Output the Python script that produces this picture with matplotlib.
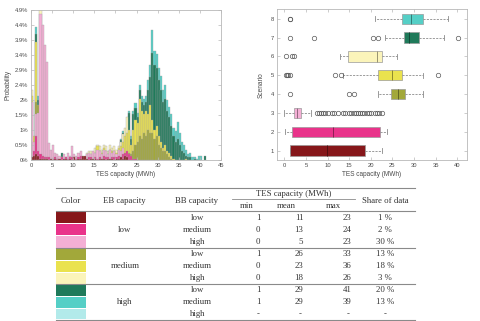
import numpy as np
import matplotlib
matplotlib.use("Agg")
import matplotlib.pyplot as plt
from matplotlib.patches import Rectangle
from matplotlib.lines import Line2D

# ---------------- data ----------------
BIN_W = 0.5  # MWh per histogram bin, bins start at 0

# probability (%) per 0.5 MWh bin, 0 .. 42 MWh (10 bins per line = 5 MWh)
p_high_medium = [  # turquoise, scenario 8
    0, 0, 4.35, 2.1, 0, 0, 0, 0, 0, 0,
    0, 0, 0, 0, 0, 0, 0, 0, 0, 0,
    0, 0, 0, 0, 0, 0, 0, 0, 0, 0,
    0, 0, 0, 0, 0, 0, 0, 0, 0, 0,
    0, 0, 0.7, 0.95, 0, 0, 1.6, 0.8, 1.6, 1.85,
    1.55, 2.45, 2.1, 2.0, 2.1, 2.6, 3.1, 4.25, 3.55, 3.45,
    3.0, 2.75, 2.3, 2.45, 1.95, 1.75, 1.5, 1.05, 0.95, 1.25,
    0.9, 0.6, 0.5, 0.35, 0.2, 0.25, 0.1, 0.1, 0.05, 0.15,
    0.15, 0, 0, 0]
p_high_low = [  # dark green, scenario 7
    0, 0, 4.1, 1.95, 0, 0, 0, 0, 0, 0,
    0, 0, 0, 0, 0.25, 0, 0, 0, 0, 0,
    0, 0, 0, 0, 0, 0, 0, 0, 0, 0,
    0, 0, 0, 0, 0, 0, 0, 0, 0, 0,
    0, 0, 0.65, 0.9, 0, 0, 1.55, 0.7, 1.5, 1.7,
    1.4, 2.3, 1.9, 1.8, 1.9, 2.3, 2.7, 3.5, 3.1, 3.0,
    2.6, 2.3, 1.9, 2.0, 1.6, 1.4, 1.1, 0.8, 0.6, 0.7,
    0.5, 0.3, 0.25, 0.15, 0.1, 0.1, 0, 0.05, 0, 0,
    0, 0, 0.15, 0]
p_medium_high = [  # light yellow, scenario 6
    2.3, 0, 0, 0, 4.95, 0, 0, 0, 0, 0,
    0, 0, 0, 0, 0, 0, 0, 0, 0, 0,
    0, 0, 0, 0, 0, 0, 0.25, 0.3, 0.3, 0.25,
    0.4, 0.5, 0.45, 0.35, 0.5, 0.45, 0.3, 0.5, 0.4, 0.45,
    0.35, 0.45, 0.6, 0.85, 1.05, 1.4, 0.6, 0.3, 0, 0,
    0, 0, 0, 0, 0, 0, 0, 0, 0, 0,
    0, 0, 0, 0, 0, 0, 0, 0, 0, 0,
    0, 0, 0, 0, 0, 0, 0, 0, 0, 0,
    0, 0, 0, 0]
p_medium_medium = [  # yellow, scenario 5
    2.1, 0.8, 3.85, 0, 0, 0, 0, 0, 0, 0,
    0, 0, 0, 0, 0, 0, 0, 0, 0, 0,
    0, 0, 0, 0, 0, 0, 0, 0.1, 0.15, 0.1,
    0.25, 0.45, 0.3, 0.25, 0.4, 0.3, 0.2, 0.35, 0.3, 0.3,
    0.25, 0.4, 0.45, 0.6, 0.8, 0.9, 1.0, 0.5, 1.0, 1.3,
    1.2, 2.0, 1.6, 1.5, 1.6, 1.5, 1.8, 1.3, 1.0, 1.1,
    0.8, 0.6, 0.4, 0.5, 0.3, 0.25, 0.15, 0.05, 0, 0,
    0, 0, 0, 0.05, 0, 0, 0, 0, 0, 0,
    0, 0, 0, 0]
p_medium_low = [  # olive, scenario 4
    0, 0, 1.9, 1.8, 0, 0, 0, 0, 0, 0,
    0, 0, 0, 0, 0, 0, 0, 0, 0, 0,
    0, 0, 0, 0, 0, 0, 0, 0, 0, 0,
    0, 0.1, 0, 0.1, 0, 0, 0, 0, 0, 0,
    0, 0, 0, 0.1, 0.15, 0.2, 0.25, 0.2, 0.3, 0.5,
    0.6, 0.8, 0.7, 0.9, 0.8, 1.0, 0.9, 0.9, 0.7, 0.8,
    0.5, 0.4, 0.3, 0.3, 0.2, 0.1, 0.05, 0, 0, 0,
    0, 0, 0, 0, 0, 0, 0, 0, 0, 0,
    0, 0, 0, 0]
p_low_high = [  # light pink, scenario 3
    1.9, 0.6, 1.5, 1.55, 4.75, 4.4, 3.75, 3.2, 0.55, 0.35,
    0.5, 0.25, 0.2, 0.15, 0.1, 0.2, 0.1, 0.25, 0.15, 0.45,
    0.2, 0.15, 0.25, 0.3, 0.05, 0.1, 0.2, 0.25, 0.2, 0.3,
    0.25, 0.35, 0.3, 0.2, 0.35, 0.3, 0.2, 0.35, 0.25, 0.3,
    0.2, 0.35, 0.3, 0.4, 0.15, 0.1, 0, 0, 0, 0,
    0, 0, 0, 0, 0, 0, 0, 0, 0, 0,
    0, 0, 0, 0, 0, 0, 0, 0, 0, 0,
    0, 0, 0, 0, 0, 0, 0, 0, 0, 0,
    0, 0, 0, 0]
p_low_medium = [  # pink, scenario 2
    0, 0.3, 0.8, 0.3, 0.2, 0.15, 0.1, 0.1, 0.1, 0.05,
    0.05, 0.1, 0.05, 0.05, 0.1, 0.05, 0.1, 0.05, 0.1, 0.1,
    0.1, 0.05, 0.1, 0.15, 0.1, 0.1, 0.05, 0.1, 0.1, 0.05,
    0.1, 0.05, 0.1, 0.05, 0.15, 0.1, 0.1, 0.05, 0.1, 0.1,
    0.1, 0.15, 0.1, 0.2, 0.25, 0.3, 0.2, 0.15, 0.05, 0.05,
    0, 0, 0, 0, 0, 0, 0, 0, 0, 0,
    0, 0, 0, 0, 0, 0, 0, 0, 0, 0,
    0, 0, 0, 0, 0, 0, 0, 0, 0, 0,
    0, 0, 0, 0]
p_low_low = [  # dark red, scenario 1
    0.1, 0.15, 0.2, 0.15, 0.05, 0.05, 0.05, 0.05, 0, 0.05,
    0, 0.05, 0, 0.05, 0, 0.05, 0.05, 0, 0.05, 0,
    0.1, 0, 0.05, 0.05, 0.15, 0.15, 0.05, 0, 0.05, 0.05,
    0.05, 0, 0.05, 0.05, 0.05, 0, 0.05, 0.05, 0.05, 0,
    0.05, 0.05, 0.1, 0.05, 0.15, 0.1, 0, 0, 0, 0,
    0, 0, 0, 0, 0, 0, 0, 0, 0, 0,
    0, 0, 0, 0, 0, 0, 0, 0, 0, 0,
    0, 0, 0, 0, 0, 0, 0, 0, 0, 0,
    0, 0, 0, 0]

# boxplot statistics per scenario 1..8 (MWh)
scenarios = [1, 2, 3, 4, 5, 6, 7, 8]
whisk_lo = [1.3, 0.2, 0.0, 21.6, 13.5, 12.9, 23.3, 21.0]
q1 = [1.3, 1.7, 2.2, 24.6, 21.7, 14.6, 27.7, 27.3]
median = [9.9, 11.3, 2.85, 26.2, 25.0, 21.5, 28.9, 29.4]
q3 = [18.7, 22.1, 3.9, 27.9, 27.3, 22.7, 31.1, 32.0]
whisk_hi = [22.5, 23.7, 6.1, 32.0, 32.0, 26.0, 36.9, 37.9]
fliers = [
    [],
    [],
    [7.5, 8.0, 8.5, 9.0, 9.5, 10.0, 11.0, 11.5, 12.5, 13.5, 14.0, 15.0, 15.5,
     16.0, 16.5, 17.0, 17.5, 18.0, 18.5, 19.0, 19.5, 20.0, 21.0, 21.5, 22.0, 22.5],
    [1.2, 15.0, 16.1],
    [0.3, 0.6, 0.9, 1.2, 11.6, 13.2, 35.5],
    [0.3, 1.7, 2.2],
    [1.2, 6.8, 20.6, 21.6, 40.1],
    [1.2, 1.3],
]

# table
table_colors = ["#86171A", "#E9338A", "#F4AFD5", "#A2A83A", "#EAE24E",
                "#FBF4BA", "#1F7A5A", "#55CFC6", "#B2EAEA"]
eb_levels = ["low", "medium", "high"]
bb_levels = ["low", "medium", "high"]
tes_min = ["1", "0", "0", "1", "0", "0", "1", "1", "-"]
tes_mean = ["11", "13", "5", "26", "23", "18", "29", "29", "-"]
tes_max = ["23", "24", "23", "33", "36", "26", "41", "39", "-"]
share = ["1 %", "2 %", "30 %", "13 %", "18 %", "3 %", "20 %", "13 %", "-"]

ytick_labels = ["0%", "0.5%", "1%", "1.5%", "2%", "2.4%", "2.9%", "3.4%",
                "3.9%", "4.4%", "4.9%"]

# ---------------- figure ----------------
W, H = 480, 321
fig = plt.figure(figsize=(W / 100, H / 100), dpi=100)

SANS = "Liberation Sans"
SERIF = "Liberation Serif"
TICK_FS = 4.2
LAB_FS = 4.7
AX_COL = "#b8b8b8"
TXT_COL = "#4a4a4a"


def style_axes(ax):
    for s in ax.spines.values():
        s.set_color(AX_COL)
        s.set_linewidth(0.6)
    ax.tick_params(direction="in", length=2, width=0.5, color=AX_COL,
                   labelsize=TICK_FS, labelcolor=TXT_COL, pad=2,
                   top=False, right=True)
    for lab in ax.get_xticklabels() + ax.get_yticklabels():
        lab.set_fontfamily(SANS)


# ---- histogram ----
ax1 = fig.add_axes([31 / W, 1 - 160.3 / H, 190 / W, 150.6 / H])
series_hist = [
    (p_high_medium, table_colors[7]),
    (p_high_low, table_colors[6]),
    (p_medium_high, table_colors[5]),
    (p_medium_medium, table_colors[4]),
    (p_medium_low, table_colors[3]),
    (p_low_high, table_colors[2]),
    (p_low_medium, table_colors[1]),
    (p_low_low, table_colors[0]),
]
for vals, col in series_hist:
    vals = np.asarray(vals, dtype=float)
    lefts = np.arange(len(vals)) * BIN_W
    m = vals > 0
    ax1.bar(lefts[m], vals[m], width=BIN_W, align="edge", color=col,
            edgecolor="#a0a0a0", linewidth=0.25)
ax1.set_xlim(0, 45)
ax1.set_ylim(0, 4.9)
ax1.set_xticks(np.arange(0, 46, 5))
ax1.set_yticks(np.arange(11) * 0.49)
ax1.set_yticklabels(ytick_labels)
style_axes(ax1)
ax1.tick_params(top=True)
ax1.set_xlabel("TES capacity (MWh)", fontsize=LAB_FS, color=TXT_COL,
               family=SANS, labelpad=2)
ax1.set_ylabel("Probability", fontsize=LAB_FS, color=TXT_COL,
               family=SANS, labelpad=2)

# ---- boxplot ----
ax2 = fig.add_axes([276.7 / W, 1 - 160 / H, 190 / W, 150.7 / H])
box_colors = table_colors[:8]
stats = []
for i in range(len(scenarios)):
    stats.append(dict(whislo=whisk_lo[i], q1=q1[i], med=median[i],
                      q3=q3[i], whishi=whisk_hi[i], fliers=fliers[i]))
bp = ax2.bxp(stats, positions=scenarios, orientation="horizontal",
             widths=0.55, patch_artist=True, showfliers=True,
             capwidths=0.28,
             boxprops=dict(edgecolor="#9a9a9a", linewidth=0.5),
             whiskerprops=dict(color="#8a8a8a", linewidth=0.6,
                               linestyle=(0, (2.5, 1.5))),
             capprops=dict(color="#8a8a8a", linewidth=0.6),
             flierprops=dict(marker="o", markerfacecolor="none",
                             markeredgecolor="#5a5a5a", markersize=3.2,
                             markeredgewidth=0.5),
             medianprops=dict(linewidth=0.7))
for patch, col, med in zip(bp["boxes"], box_colors, bp["medians"]):
    patch.set_facecolor(col)
    rgb = np.array(matplotlib.colors.to_rgb(col))
    med.set_color(tuple(rgb * 0.6))
ax2.set_xlim(-1.8, 42.2)
ax2.set_ylim(0.5, 8.5)
ax2.set_xticks(np.arange(0, 41, 5))
ax2.set_yticks(scenarios)
ax2.set_yticklabels([str(s) for s in scenarios])
style_axes(ax2)
ax2.tick_params(top=True)
ax2.set_xlabel("TES capacity (MWh)", fontsize=LAB_FS, color=TXT_COL,
               family=SANS, labelpad=2)
ax2.set_ylabel("Scenario", fontsize=LAB_FS, color=TXT_COL,
               family=SANS, labelpad=4)

# ---- table ----
TFS = 6.3
TCOL = "#333333"
LCOL = "#8a8a8a"


def fx(x):
    return x / W


def fy(y):
    return 1 - y / H


def hline(y, x0, x1, lw=0.8):
    fig.add_artist(Line2D([fx(x0), fx(x1)], [fy(y), fy(y)],
                          transform=fig.transFigure, color=LCOL, linewidth=lw))


def txt(x, y, s, ha="center"):
    fig.text(fx(x), fy(y), s, ha=ha, va="center", fontsize=TFS,
             family=SERIF, color=TCOL)


TL, TR = 55.7, 415
hline(188.3, TL, TR)
hline(199.3, 231.7, 355, lw=0.6)
hline(211.0, TL, TR)
hline(248.3, TL, TR)
hline(284.3, TL, TR)
hline(320.0, TL, TR)

txt(71, 201, "Color")
txt(124.3, 201, "EB capacity")
txt(196.7, 201, "BB capacity")
txt(293.3, 194.5, "TES capacity (MWh)")
txt(246.7, 206, "min")
txt(286, 206, "mean")
txt(333.3, 206, "max")
txt(385, 201, "Share of data")

row_y = [217.7, 229.9, 242.0, 254.0, 266.2, 278.3, 290.0, 302.1, 314.3]
bands = [(211.0, 248.3), (248.3, 284.3), (284.3, 320.0)]
for k in range(9):
    y = row_y[k]
    g = k // 3
    top, bot = bands[g]
    h = (bot - top) / 3
    y0 = top + (k % 3) * h + 0.6
    fig.add_artist(Rectangle((fx(TL), fy(y0 + h - 1.2)), fx(86) - fx(TL),
                             fy(y0) - fy(y0 + h - 1.2),
                             transform=fig.transFigure,
                             facecolor=table_colors[k], edgecolor="none"))
    if k % 3 == 1:
        txt(124.8, y, eb_levels[g])
    txt(197.3, y, bb_levels[k % 3])
    if tes_min[k] == "-":
        txt(258.5, y, "-")
        txt(300.5, y, "-")
        txt(348.5, y, "-")
    else:
        txt(260.3, y, tes_min[k], ha="right")
        txt(303.3, y, tes_mean[k], ha="right")
        txt(351.3, y, tes_max[k], ha="right")
    txt(385, y, share[k])

fig.savefig("out.png", dpi=100)
